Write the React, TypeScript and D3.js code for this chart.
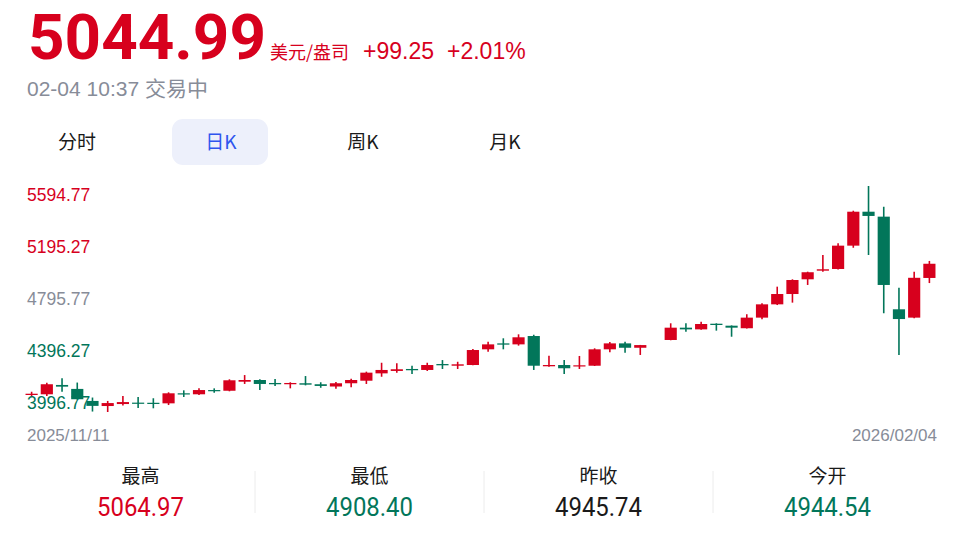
import React from "react";
import * as d3 from "d3";

// daily candles, 2025/11/11 .. 2026/02/04 (01/09 has no bar in the source)
const dates = [
  "2025/11/11", "2025/11/12", "2025/11/13", "2025/11/14",
  "2025/11/17", "2025/11/18", "2025/11/19", "2025/11/20", "2025/11/21",
  "2025/11/24", "2025/11/25", "2025/11/26", "2025/11/27", "2025/11/28",
  "2025/12/01", "2025/12/02", "2025/12/03", "2025/12/04", "2025/12/05",
  "2025/12/08", "2025/12/09", "2025/12/10", "2025/12/11", "2025/12/12",
  "2025/12/15", "2025/12/16", "2025/12/17", "2025/12/18", "2025/12/19",
  "2025/12/22", "2025/12/23", "2025/12/24", "2025/12/26",
  "2025/12/29", "2025/12/30", "2025/12/31", "2026/01/02",
  "2026/01/05", "2026/01/06", "2026/01/07", "2026/01/08", "2026/01/09",
  "2026/01/12", "2026/01/13", "2026/01/14", "2026/01/15", "2026/01/16",
  "2026/01/19", "2026/01/20", "2026/01/21", "2026/01/22", "2026/01/23",
  "2026/01/26", "2026/01/27", "2026/01/28", "2026/01/29", "2026/01/30",
  "2026/02/02", "2026/02/03", "2026/02/04",
];

const opens = [
  4117, 4122, 4188, 4160, 4075, 4039, 4053, 4063, 4062, 4058,
  4129, 4122, 4152, 4147, 4211, 4223, 4202, 4193, 4200, 4193,
  4177, 4200, 4218, 4270, 4287, 4301, 4294, 4336, 4324, 4329,
  4440, 4482, 4475, 4534, 4320, 4329, 4322, 4324, 4440, 4482,
  4451, null, 4506, 4593, 4581, 4621, 4607, 4589, 4664, 4758,
  4831, 4935, 4996, 5008, 5173, 5413, 5378, 4723, 4664, 4944.54,
];
const highs = [
  4140, 4204, 4235, 4205, 4099, 4075, 4110, 4103, 4094, 4136,
  4150, 4164, 4164, 4228, 4258, 4228, 4230, 4207, 4251, 4207,
  4209, 4232, 4282, 4345, 4341, 4324, 4345, 4364, 4352, 4442,
  4494, 4518, 4546, 4543, 4395, 4364, 4393, 4447, 4492, 4494,
  4471, null, 4624, 4624, 4635, 4624, 4609, 4688, 4765, 4883,
  4935, 4989, 5107, 5190, 5420, 5594.77, 5448, 4876, 4989, 5064.97,
];
const lows = [
  4101, 4110, 4140, 4085, 4000, 3996.77, 4043, 4025, 4023, 4046,
  4103, 4117, 4133, 4143, 4195, 4152, 4181, 4164, 4185, 4168,
  4161, 4171, 4195, 4246, 4275, 4265, 4287, 4301, 4301, 4327,
  4423, 4440, 4466, 4294, 4317, 4265, 4301, 4322, 4419, 4416,
  4400, null, 4504, 4565, 4579, 4572, 4529, 4587, 4652, 4753,
  4770, 4895, 4989, 5005, 5158, 5107, 4695, 4400, 4660, 4908.4,
];
const closes = [
  4126, 4193, 4176, 4087, 4040, 4060, 4067, 4061, 4055, 4129,
  4122, 4152, 4145, 4221, 4223, 4195, 4193, 4202, 4190, 4181,
  4200, 4223, 4275, 4294, 4299, 4292, 4329, 4327, 4334, 4435,
  4475, 4473, 4525, 4324, 4329, 4306, 4327, 4440, 4482, 4451,
  4470, null, 4593, 4581, 4619, 4612, 4593, 4664, 4758, 4831,
  4930, 4985, 5006, 5173, 5413, 5383, 4895, 4654, 4945.74, 5044.99,
];

const yTicks = [5594.77, 5195.27, 4795.77, 4396.27, 3996.77];

const tabs = ["分时", "日K", "周K", "月K"];
const statNames = ["最高", "最低", "昨收", "今开"];
const statValues = ["5064.97", "4908.40", "4945.74", "4944.54"];

const RED = "#d7001d";
const GREEN = "#02765a";
const GRAY = "#878c98";
const CJK = "'Noto Sans CJK SC', sans-serif";
const SANS = "'Liberation Sans', Arial, sans-serif";

const App = () => {
  const candles = dates.map((d, i) => ({
    date: d,
    o: opens[i],
    h: highs[i],
    l: lows[i],
    c: closes[i],
  }));

  const x = d3
    .scaleBand()
    .domain(dates)
    .range([24, 937])
    .paddingInner(0.2)
    .paddingOuter(0.1);

  const y = d3
    .scaleLinear()
    .domain([yTicks[yTicks.length - 1], yTicks[0]])
    .range([412, 186]);

  // tick labels sit inside the plot: top one hangs below the max, bottom one above the min
  const labelY = d3
    .scaleLinear()
    .domain(y.domain())
    .range([y.range()[0] - 3, y.range()[1] + 15]);

  const tickColor = (i) => (i < 2 ? RED : i === 2 ? GRAY : GREEN);
  const statColor = [RED, GREEN, "#1a1a1a", GREEN];

  const tabX = [77, 221, 363, 505];
  const colW = 229;
  const col0 = 26;

  return (
    <svg
      width={965}
      height={539}
      style={{ position: "absolute", left: 0, top: 0, background: "#fff" }}
    >
      {/* header */}
      <text
        x={28}
        y={59}
        fontFamily="Roboto, sans-serif"
        fontWeight={700}
        fontSize={63}
        fill={RED}
        textLength={238}
        lengthAdjust="spacingAndGlyphs"
      >
        5044.99
      </text>
      <text x={270} y={59} fontFamily={CJK} fontSize={18} fill={RED}>
        美元/盎司
      </text>
      <text x={363} y={59} fontFamily={SANS} fontSize={23} fill={RED}>
        +99.25
      </text>
      <text x={447} y={59} fontFamily={SANS} fontSize={23} fill={RED}>
        +2.01%
      </text>
      <text x={27} y={96} fontFamily={SANS} fontSize={21} fill={GRAY}>
        02-04 10:37{" "}
        <tspan fontFamily={CJK}>交易中</tspan>
      </text>

      {/* period tabs */}
      <rect x={172} y={119} width={96} height={46} rx={11} fill="#edf0fb" />
      {tabs.map((t, i) => (
        <text
          key={t}
          x={tabX[i]}
          y={149}
          textAnchor="middle"
          fontFamily={CJK}
          fontSize={19}
          fill={i === 1 ? "#2f55ee" : "#1a1a1a"}
        >
          {t}
        </text>
      ))}

      {/* candles */}
      <g>
        {candles.map((d) => {
          if (d.o == null) return null;
          const up = d.c >= d.o;
          const col = up ? RED : GREEN;
          const cx = x(d.date) + x.bandwidth() / 2;
          const top = y(Math.max(d.o, d.c));
          const bh = Math.max(1.2, Math.abs(y(d.o) - y(d.c)));
          return (
            <g key={d.date}>
              <line
                x1={cx}
                x2={cx}
                y1={y(d.h)}
                y2={y(d.l)}
                stroke={col}
                strokeWidth={1.6}
              />
              <rect
                x={x(d.date)}
                y={top}
                width={x.bandwidth()}
                height={bh}
                fill={col}
              />
            </g>
          );
        })}
      </g>

      {/* y labels */}
      {yTicks.map((v, i) => (
        <text
          key={v}
          x={27}
          y={labelY(v)}
          fontFamily={SANS}
          fontSize={17.5}
          fill={tickColor(i)}
        >
          {v.toFixed(2)}
        </text>
      ))}

      {/* date labels */}
      <text x={27} y={441} fontFamily={SANS} fontSize={17} fill={GRAY}>
        {dates[0]}
      </text>
      <text
        x={937}
        y={441}
        textAnchor="end"
        fontFamily={SANS}
        fontSize={17}
        fill={GRAY}
      >
        {dates[dates.length - 1]}
      </text>

      {/* stats row */}
      {statNames.map((s, i) => {
        const cx = col0 + colW * i + colW / 2;
        return (
          <g key={s}>
            {i > 0 && (
              <line
                x1={col0 + colW * i}
                x2={col0 + colW * i}
                y1={471}
                y2={513}
                stroke="#ececec"
                strokeWidth={1}
              />
            )}
            <text
              x={cx}
              y={483}
              textAnchor="middle"
              fontFamily={CJK}
              fontSize={19}
              fill="#1a1a1a"
            >
              {s}
            </text>
            <text
              x={cx}
              y={516}
              textAnchor="middle"
              fontFamily="Roboto, sans-serif"
              fontSize={25}
              fill={statColor[i]}
              textLength={87}
              lengthAdjust="spacingAndGlyphs"
            >
              {statValues[i]}
            </text>
          </g>
        );
      })}
    </svg>
  );
};

export default App;
